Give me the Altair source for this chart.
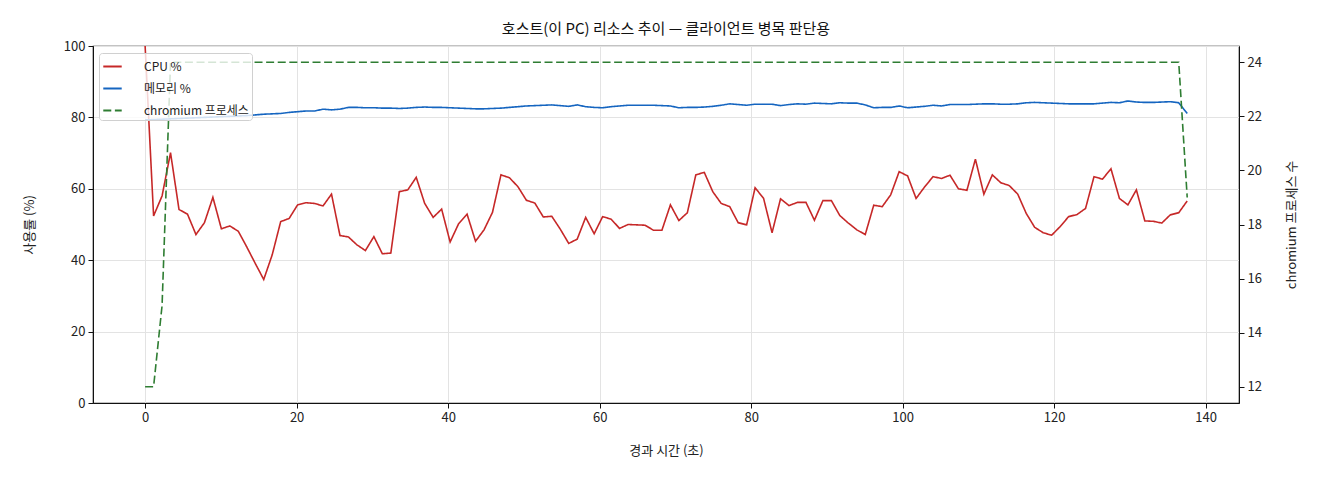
import altair as alt
import pandas as pd

# sampling interval between measurements (seconds)
SAMPLE_INTERVAL = 1.1184

cpu = [100.0, 52.4, 58.0, 70.1, 54.2, 52.9, 47.2, 50.5, 57.6, 48.8,
       49.6, 48.1, 43.7, 39.1, 34.6, 41.5, 50.8, 51.7, 55.5, 56.1,
       55.9, 55.2, 58.5, 46.9, 46.5, 44.3, 42.7, 46.6, 41.8, 42.0,
       59.2, 59.7, 63.2, 55.9, 52.0, 54.3, 45.1, 50.2, 52.9, 45.3,
       48.5, 53.4, 63.9, 63.1, 60.6, 56.8, 56.0, 52.1, 52.3, 48.7,
       44.7, 45.9, 52.0, 47.4, 52.2, 51.5, 48.9, 50.0, 49.9, 49.8,
       48.4, 48.4, 55.5, 51.1, 53.3, 63.9, 64.6, 59.2, 55.9, 55.0,
       50.5, 49.9, 60.3, 57.3, 47.7, 57.2, 55.3, 56.2, 56.2, 51.2,
       56.7, 56.7, 52.5, 50.4, 48.5, 47.2, 55.4, 55.0, 58.3, 64.8,
       63.6, 57.3, 60.5, 63.4, 62.9, 63.8, 60.0, 59.6, 68.3, 58.5,
       63.9, 61.7, 60.9, 58.5, 53.1, 49.2, 47.7, 47.0, 49.4, 52.2,
       52.8, 54.5, 63.4, 62.7, 65.6, 57.3, 55.5, 59.7, 51.0, 50.9,
       50.4, 52.7, 53.3, 56.6]

memory = [79.3, 79.4, 79.5, 79.6, 79.7, 79.8, 79.9, 80.0, 80.1, 80.2,
          80.3, 80.4, 80.5, 80.7, 80.9, 81.0, 81.1, 81.4, 81.6, 81.8,
          81.8, 82.3, 82.1, 82.3, 82.8, 82.8, 82.7, 82.7, 82.6, 82.6,
          82.5, 82.6, 82.8, 82.9, 82.8, 82.8, 82.7, 82.6, 82.5, 82.4,
          82.4, 82.5, 82.6, 82.8, 83.0, 83.2, 83.3, 83.4, 83.5, 83.3,
          83.1, 83.5, 83.0, 82.8, 82.7, 83.0, 83.2, 83.4, 83.4, 83.4,
          83.4, 83.3, 83.2, 82.7, 82.8, 82.8, 82.9, 83.1, 83.4, 83.8,
          83.6, 83.4, 83.7, 83.7, 83.7, 83.3, 83.6, 83.8, 83.7, 84.0,
          83.9, 83.8, 84.1, 84.0, 84.0, 83.5, 82.7, 82.8, 82.8, 83.2,
          82.7, 82.9, 83.1, 83.4, 83.2, 83.6, 83.6, 83.6, 83.7, 83.8,
          83.8, 83.7, 83.7, 83.8, 84.1, 84.2, 84.1, 84.0, 83.9, 83.8,
          83.8, 83.8, 83.8, 84.0, 84.2, 84.1, 84.6, 84.3, 84.2, 84.2,
          84.3, 84.4, 84.1, 81.1]

chromium = [12, 12, 15] + [24] * 120 + [19]

elapsed = [round(i * SAMPLE_INTERVAL, 3) for i in range(len(cpu))]

SERIES = ["CPU %", "메모리 %", "chromium 프로세스"]
COLORS = ["#c62828", "#1565c0", "#2e7d32"]
DASHES = [[1, 0], [1, 0], [8, 3.6]]
FONT = "Noto Sans CJK KR"

n = len(elapsed)
usage = pd.DataFrame({
    "t": elapsed + elapsed,
    "value": cpu + memory,
    "series": [SERIES[0]] * n + [SERIES[1]] * n,
})
procs = pd.DataFrame({"t": elapsed, "value": chromium, "series": SERIES[2]})

legend = alt.Legend(
    title=None, orient="none", legendX=6, legendY=7,
    symbolType="stroke", symbolSize=340, symbolStrokeWidth=1.8,
    labelFont=FONT, labelFontSize=12, labelColor="#222",
    fillColor="rgba(255,255,255,0.8)", strokeColor="#d0d0d0",
    cornerRadius=3, padding=3, rowPadding=5, labelOffset=21,
)
color = alt.Color("series:N").scale(domain=SERIES, range=COLORS).legend(legend)
dash = alt.StrokeDash("series:N").scale(domain=SERIES, range=DASHES).legend(legend)

x = alt.X("t:Q").scale(domain=[-6.88, 144.4], nice=False, zero=False).axis(
    values=list(range(0, 141, 20)), title="경과 시간 (초)", grid=True, titlePadding=20)

left = alt.Chart(usage).mark_line(strokeWidth=1.6, clip=True).encode(
    x=x,
    y=alt.Y("value:Q").scale(domain=[0, 100], nice=False).axis(
        orient="left", values=list(range(0, 101, 20)), title="사용률 (%)",
        grid=True, titlePadding=27),
    color=color,
    strokeDash=dash,
)

right = alt.Chart(procs).mark_line(strokeWidth=1.6, clip=True).encode(
    x=x,
    y=alt.Y("value:Q").scale(domain=[11.4, 24.6], nice=False, zero=False).axis(
        orient="right", values=list(range(12, 25, 2)),
        title="chromium 프로세스 수", grid=False, titleAngle=270, titlePadding=37),
    color=color,
    strokeDash=dash,
)

chart = alt.layer(left, right).resolve_scale(y="independent").properties(
    width=1146, height=357,
    title=alt.Title("호스트(이 PC) 리소스 추이 — 클라이언트 병목 판단용",
                    font=FONT, fontSize=15, fontWeight="normal", color="#111", offset=3),
    autosize="none",
    padding={"left": 85, "top": 38, "right": 73, "bottom": 69},
).configure_view(
    stroke="#111", strokeWidth=1.2
).configure_axis(
    labelFont=FONT, labelFontSize=13, labelColor="#222",
    titleFont=FONT, titleFontSize=13, titleFontWeight="normal", titleColor="#222",
    tickColor="#111", tickSize=5, domainColor="#111",
    gridColor="#e3e3e3", gridWidth=1, labelPadding=3,
)

chart.save("out.html", embed_options={"renderer": "svg", "actions": False})
